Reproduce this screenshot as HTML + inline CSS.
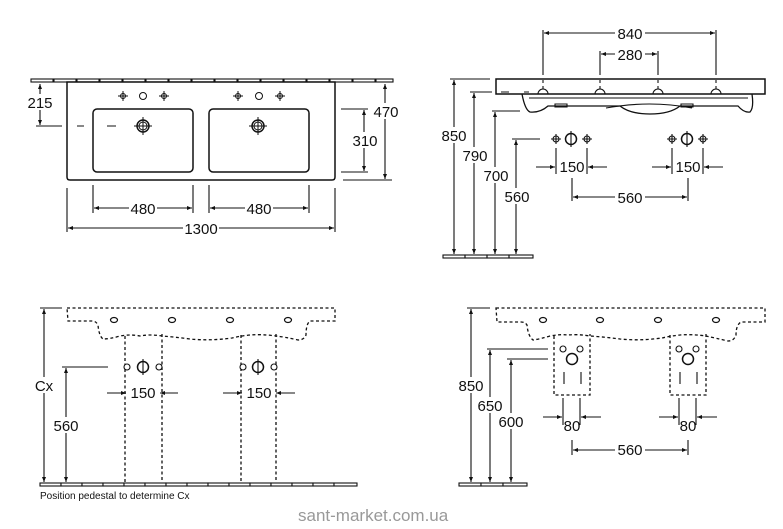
<!DOCTYPE html>
<html><head><meta charset="utf-8"><style>
html,body{margin:0;padding:0;background:#fff;}
svg{display:block;}
text{font-family:"Liberation Sans",Arial,sans-serif;fill:#111;}
.d{font-size:15px;text-anchor:middle;}
</style></head><body>
<svg width="783" height="529" viewBox="0 0 783 529" xmlns="http://www.w3.org/2000/svg">
<defs>
<marker id="a" viewBox="0 0 10 10" refX="10" refY="5" markerWidth="7" markerHeight="5" orient="auto-start-reverse" markerUnits="userSpaceOnUse"><path d="M0,1 L10,5 L0,9 z" fill="#111"/></marker>
</defs>
<g stroke="#111" fill="none" stroke-width="1.1">
<!-- ===== TOP LEFT ===== -->
<g fill="#fff">
<rect x="31" y="79" width="22" height="3"/><rect x="54" y="79" width="22" height="3"/><rect x="77" y="79" width="22" height="3"/><rect x="100" y="79" width="22" height="3"/><rect x="123" y="79" width="22" height="3"/><rect x="146" y="79" width="22" height="3"/><rect x="169" y="79" width="22" height="3"/><rect x="192" y="79" width="22" height="3"/><rect x="215" y="79" width="22" height="3"/><rect x="238" y="79" width="22" height="3"/><rect x="261" y="79" width="22" height="3"/><rect x="284" y="79" width="22" height="3"/><rect x="307" y="79" width="22" height="3"/><rect x="330" y="79" width="22" height="3"/><rect x="353" y="79" width="22" height="3"/><rect x="376" y="79" width="17" height="3"/>
</g>
<path d="M67,82 H335 V177 Q335,180 332,180 H70 Q67,180 67,177 Z" fill="#fff" stroke-width="1.5"/>
<rect x="93" y="109" width="100" height="63" rx="4" stroke-width="1.5"/>
<rect x="209" y="109" width="100" height="63" rx="4" stroke-width="1.5"/>
<g stroke-width="1">
<circle cx="123" cy="96" r="2.5"/><circle cx="143" cy="96" r="3.5"/><circle cx="164" cy="96" r="2.5"/>
<circle cx="238" cy="96" r="2.5"/><circle cx="259" cy="96" r="3.5"/><circle cx="280" cy="96" r="2.5"/>
<path d="M123,91v10M118,96h10M164,91v10M159,96h10M238,91v10M233,96h10M280,91v10M275,96h10"/>
<circle cx="143" cy="126" r="6" stroke-width="1.5"/><circle cx="143" cy="126" r="4"/><path d="M143,117v18M134,126h18"/>
<circle cx="258" cy="126" r="6" stroke-width="1.5"/><circle cx="258" cy="126" r="4"/><path d="M258,117v18M249,126h18"/>
</g>
<path d="M36,126H62M77,126H84M107,126H116"/>
<path d="M40,84V125" marker-start="url(#a)" marker-end="url(#a)"/>
<path d="M341,109H368M341,172H368M343,180H392M341,82H392"/>
<path d="M364,110V171" marker-start="url(#a)" marker-end="url(#a)"/>
<path d="M385,84V179" marker-start="url(#a)" marker-end="url(#a)"/>
<path d="M93,185V213M193,185V213M209,185V213M309,185V213M67,188V232M335,188V232"/>
<path d="M94,208H192" marker-start="url(#a)" marker-end="url(#a)"/>
<path d="M210,208H308" marker-start="url(#a)" marker-end="url(#a)"/>
<path d="M68,228H334" marker-start="url(#a)" marker-end="url(#a)"/>

<!-- ===== TOP RIGHT ===== -->
<path d="M543,30V75M600,51V75M658,51V75M716,30V75"/>
<path d="M544,33H715" marker-start="url(#a)" marker-end="url(#a)"/>
<path d="M601,54H657" marker-start="url(#a)" marker-end="url(#a)"/>
<rect x="496" y="79" width="269" height="15" fill="#fff" stroke-width="1.5"/>
<path d="M543,80V89M600,80V89M658,80V89M716,80V89" stroke-dasharray="3,3"/>
<path d="M522,94 Q525,110 530,112 Q540,113 548,106 H620 Q630,114 650,114 Q670,114 680,106 H738 Q744,113 750,112 Q754,108 752,94" stroke-width="1.3"/>
<path d="M529,98H748"/>
<path d="M555,104h12v3h-12zM681,104h12v3h-12z"/>
<path d="M606,108 Q650,100 692,108"/>
<path d="M538,94a4,4 0 0 1 10,0M595,94a4,4 0 0 1 10,0M653,94a4,4 0 0 1 10,0M711,94a4,4 0 0 1 10,0"/>
<path d="M501,92h8M524,92h5"/>
<rect x="443" y="255" width="22" height="3"/><rect x="465" y="255" width="22" height="3"/><rect x="487" y="255" width="22" height="3"/><rect x="509" y="255" width="24" height="3"/>
<path d="M450,79H490M470,92H492M492,111H520M512,139H540"/>
<path d="M454,80V254" marker-start="url(#a)" marker-end="url(#a)"/>
<path d="M474,93V254" marker-start="url(#a)" marker-end="url(#a)"/>
<path d="M495,112V254" marker-start="url(#a)" marker-end="url(#a)"/>
<path d="M516,140V254" marker-start="url(#a)" marker-end="url(#a)"/>
<circle cx="556" cy="139" r="3"/><circle cx="571" cy="139" r="5.5" stroke-width="1.5"/><circle cx="587" cy="139" r="3"/>
<circle cx="672" cy="139" r="3"/><circle cx="687" cy="139" r="5.5" stroke-width="1.5"/><circle cx="703" cy="139" r="3"/>
<path d="M556,134v10M551,139h10M571,131v16M587,134v10M582,139h10M672,134v10M667,139h10M687,131v16M703,134v10M698,139h10"/>
<path d="M556,148V174M587,148V174M672,148V174M703,148V174M572,178V201M688,178V201"/>
<path d="M536,167H555" marker-end="url(#a)"/><path d="M607,167H588" marker-end="url(#a)"/>
<path d="M652,167H671" marker-end="url(#a)"/><path d="M723,167H704" marker-end="url(#a)"/>
<path d="M573,197H687" marker-start="url(#a)" marker-end="url(#a)"/>

<!-- ===== BOTTOM LEFT ===== -->
<g stroke-dasharray="3,2.5" stroke-width="1.3">
<path d="M67,308H335V321H310Q306,324 306,335Q304,340 298,340Q285,337 276,336Q262,334 250,335Q240,336 232,338Q210,341 190,339Q175,337 162,336Q150,334 140,336Q130,334 120,336Q110,339 103,339Q99,336 98,325Q96,321 92,321H68Z"/>
<path d="M125,336V484M162,334V484M241,335V484M276,334V484"/>
</g>
<ellipse cx="114" cy="320" rx="3.5" ry="2.5" stroke-width="1.2"/><ellipse cx="172" cy="320" rx="3.5" ry="2.5" stroke-width="1.2"/><ellipse cx="230" cy="320" rx="3.5" ry="2.5" stroke-width="1.2"/><ellipse cx="288" cy="320" rx="3.5" ry="2.5" stroke-width="1.2"/>
<g fill="#fff">
<rect x="40" y="483" width="21" height="3"/><rect x="61" y="483" width="21" height="3"/><rect x="82" y="483" width="21" height="3"/><rect x="103" y="483" width="21" height="3"/><rect x="124" y="483" width="21" height="3"/><rect x="145" y="483" width="21" height="3"/><rect x="166" y="483" width="21" height="3"/><rect x="187" y="483" width="21" height="3"/><rect x="208" y="483" width="21" height="3"/><rect x="229" y="483" width="21" height="3"/><rect x="250" y="483" width="21" height="3"/><rect x="271" y="483" width="21" height="3"/><rect x="292" y="483" width="21" height="3"/><rect x="313" y="483" width="21" height="3"/><rect x="334" y="483" width="23" height="3"/>
</g>
<circle cx="127" cy="367" r="3" fill="#fff"/><circle cx="143" cy="367" r="5.5" stroke-width="1.5" fill="#fff"/><circle cx="159" cy="367" r="3" fill="#fff"/>
<circle cx="243" cy="367" r="3" fill="#fff"/><circle cx="258" cy="367" r="5.5" stroke-width="1.5" fill="#fff"/><circle cx="274" cy="367" r="3" fill="#fff"/>
<path d="M143,359v16M258,359v16"/>
<path d="M107,393H126" marker-end="url(#a)"/><path d="M178,393H160" marker-end="url(#a)"/>
<path d="M223,393H242" marker-end="url(#a)"/><path d="M295,393H276" marker-end="url(#a)"/>
<path d="M40,308H62M62,367H108"/>
<path d="M44,309V482" marker-start="url(#a)" marker-end="url(#a)"/>
<path d="M66,368V482" marker-start="url(#a)" marker-end="url(#a)"/>

<!-- ===== BOTTOM RIGHT ===== -->
<g stroke-dasharray="3,2.5" stroke-width="1.3">
<path d="M496,308H765V322H741Q736,325 736,335Q734,341 728,341Q715,338 706,336Q692,334 680,335Q670,336 662,338Q640,341 620,339Q605,337 590,336Q578,334 568,335Q560,334 550,336Q540,339 533,340Q528,336 527,325Q525,322 521,322H497Z"/>
<path d="M554,336V395H590V334M670,335V395H706V334"/>
</g>
<ellipse cx="543" cy="320" rx="3.5" ry="2.5" stroke-width="1.2"/><ellipse cx="600" cy="320" rx="3.5" ry="2.5" stroke-width="1.2"/><ellipse cx="658" cy="320" rx="3.5" ry="2.5" stroke-width="1.2"/><ellipse cx="716" cy="320" rx="3.5" ry="2.5" stroke-width="1.2"/>
<circle cx="563" cy="349" r="3"/><circle cx="580" cy="349" r="3"/><circle cx="572" cy="359" r="5.5" stroke-width="1.5"/>
<circle cx="679" cy="349" r="3"/><circle cx="696" cy="349" r="3"/><circle cx="688" cy="359" r="5.5" stroke-width="1.5"/>
<path d="M564,372V384M581,372V384M680,372V384M697,372V384"/>
<g fill="#fff"><rect x="459" y="483" width="22" height="3"/><rect x="481" y="483" width="22" height="3"/><rect x="503" y="483" width="24" height="3"/></g>
<path d="M467,308H490M487,349H548M507,359H548"/>
<path d="M471,309V482" marker-start="url(#a)" marker-end="url(#a)"/>
<path d="M490,350V482" marker-start="url(#a)" marker-end="url(#a)"/>
<path d="M511,360V482" marker-start="url(#a)" marker-end="url(#a)"/>
<path d="M563,398V425M580,398V425M679,398V425M696,398V425M572,440V455M688,440V455"/>
<path d="M543,417H562" marker-end="url(#a)"/><path d="M601,417H581" marker-end="url(#a)"/>
<path d="M659,417H678" marker-end="url(#a)"/><path d="M717,417H697" marker-end="url(#a)"/>
<path d="M573,450H687" marker-start="url(#a)" marker-end="url(#a)"/>
</g>

<g fill="#fff">
<rect x="27" y="94" width="26" height="16"/>
<rect x="374" y="103" width="24" height="16"/>
<rect x="352" y="132" width="25" height="16"/>
<rect x="129" y="200" width="28" height="16"/><rect x="245" y="200" width="28" height="16"/>
<rect x="183" y="220" width="36" height="16"/>
<rect x="615" y="25" width="30" height="16"/><rect x="615" y="46" width="30" height="16"/>
<rect x="441" y="127" width="26" height="16"/><rect x="463" y="147" width="24" height="16"/>
<rect x="484" y="167" width="24" height="16"/><rect x="505" y="188" width="25" height="16"/>
<rect x="615" y="189" width="30" height="16"/>
<rect x="33" y="377" width="22" height="16"/><rect x="54" y="417" width="25" height="16"/>
<rect x="458" y="377" width="26" height="16"/><rect x="478" y="397" width="25" height="16"/><rect x="498" y="413" width="26" height="16"/>
<rect x="615" y="442" width="30" height="16"/>
</g>
<text class="d" x="40" y="108">215</text>
<text class="d" x="386" y="117">470</text>
<text class="d" x="365" y="146">310</text>
<text class="d" x="143" y="214">480</text>
<text class="d" x="259" y="214">480</text>
<text class="d" x="201" y="234">1300</text>
<text class="d" x="630" y="39">840</text>
<text class="d" x="630" y="60">280</text>
<text class="d" x="454" y="141">850</text>
<text class="d" x="475" y="161">790</text>
<text class="d" x="496" y="181">700</text>
<text class="d" x="517" y="202">560</text>
<text class="d" x="572" y="172">150</text>
<text class="d" x="688" y="172">150</text>
<text class="d" x="630" y="203">560</text>
<text class="d" x="44" y="391">Cx</text>
<text class="d" x="66" y="431">560</text>
<text class="d" x="143" y="398">150</text>
<text class="d" x="259" y="398">150</text>
<text x="40" y="499" style="font-size:10px">Position pedestal to determine Cx</text>
<text class="d" x="471" y="391">850</text>
<text class="d" x="490" y="411">650</text>
<text class="d" x="511" y="427">600</text>
<text class="d" x="572" y="431">80</text>
<text class="d" x="688" y="431">80</text>
<text class="d" x="630" y="455">560</text>
<text x="298" y="521" style="font-size:17px;fill:#999">sant-market.com.ua</text>
</svg>
</body></html>
